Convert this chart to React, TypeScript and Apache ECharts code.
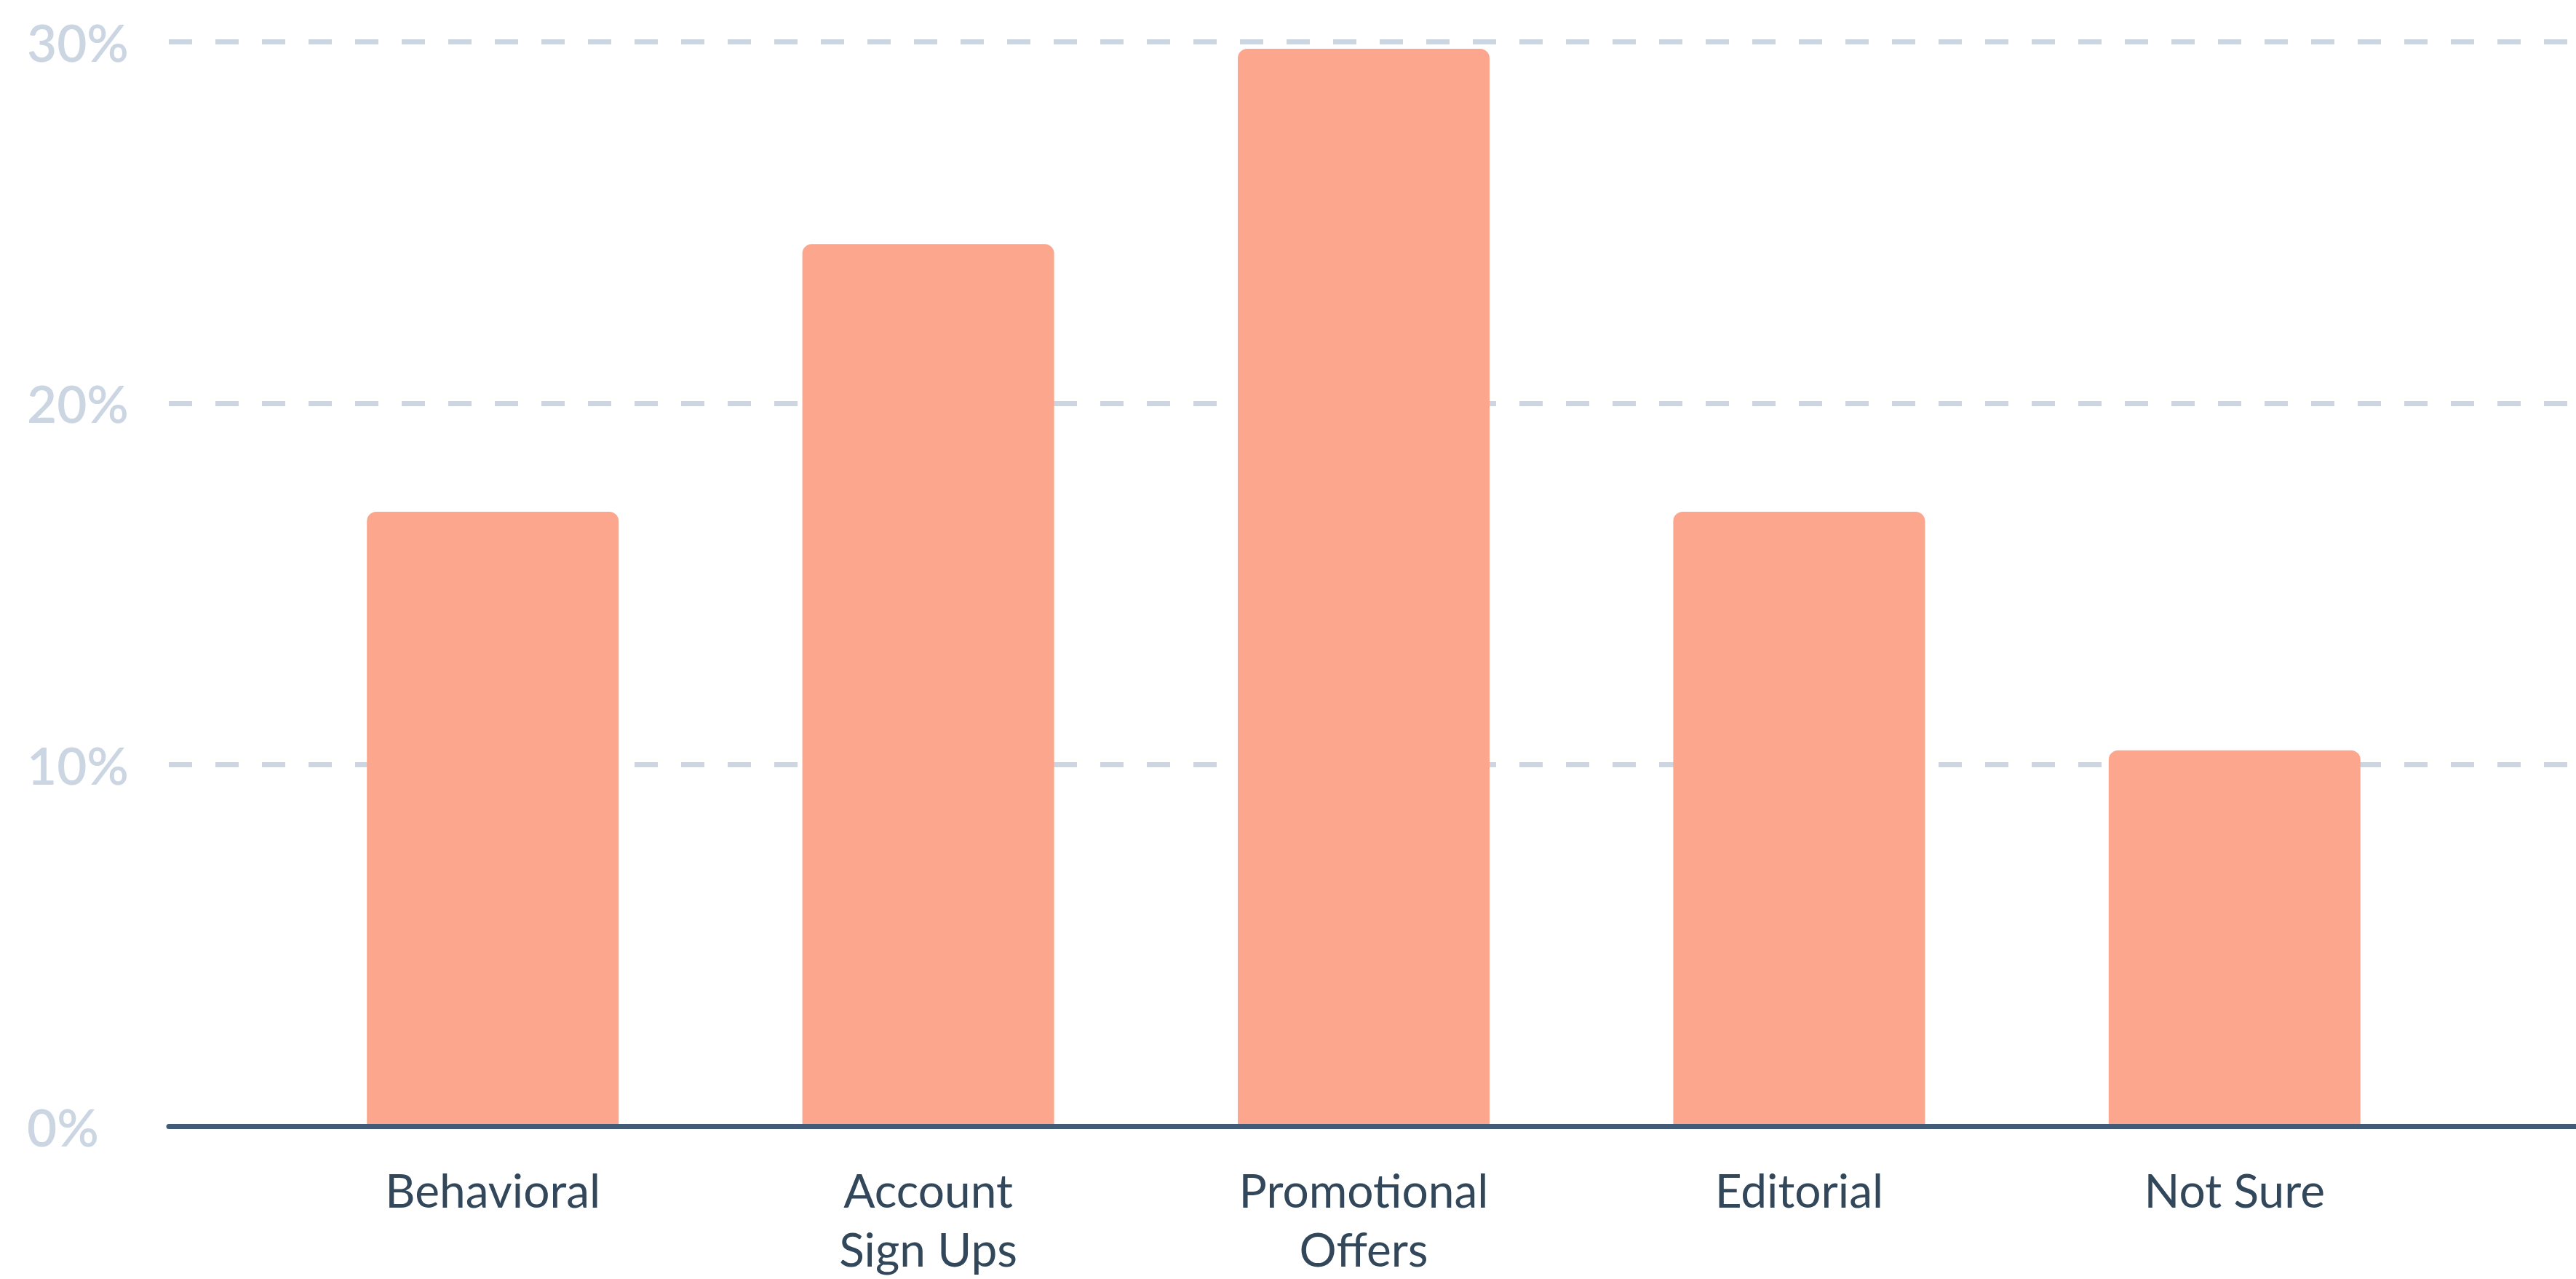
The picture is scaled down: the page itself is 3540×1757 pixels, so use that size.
import React, { useEffect, useRef } from "react";
import * as echarts from "echarts";

const categories: string[] = [
  "Behavioral",
  "Account\nSign Ups",
  "Promotional\nOffers",
  "Editorial",
  "Not Sure",
];
const values: number[] = [17, 24.4, 29.8, 17, 10.4];
const yMin = 0;
const yMax = 30;
const yInterval = 10;

const FONT = "Lato, 'Noto Sans', sans-serif";

export default function App() {
  const ref = useRef<HTMLDivElement>(null);
  useEffect(() => {
    if (!ref.current) return;
    const chart = echarts.init(ref.current, undefined, { renderer: "svg" });
    const gridTop = 57;
    const gridBottom = 1757 - 1547.5;
    chart.setOption({
      animation: false,
      backgroundColor: "#ffffff",
      grid: [
        {
          left: 232,
          right: 0,
          top: gridTop,
          bottom: gridBottom,
          outerBoundsMode: "none",
          containLabel: false,
        },
        {
          left: 378,
          right: 170,
          top: gridTop,
          bottom: gridBottom,
          outerBoundsMode: "none",
          containLabel: false,
        },
      ],
      xAxis: [
        {
          type: "value",
          gridIndex: 0,
          min: 0,
          max: 1,
          position: "bottom",
          z: 10,
          axisLine: { show: true, lineStyle: { color: "#425b76", width: 7 } },
          axisTick: { show: false },
          axisLabel: { show: false },
          splitLine: { show: false },
        },
        {
          type: "category",
          gridIndex: 1,
          data: categories,
          axisLine: { show: false },
          axisTick: { show: false },
          splitLine: { show: false },
          axisLabel: {
            interval: 0,
            margin: 46,
            color: "#33475b",
            fontFamily: FONT,
            fontSize: 64,
            lineHeight: 81,
          },
        },
      ],
      yAxis: [
        {
          type: "value",
          gridIndex: 0,
          min: yMin,
          max: yMax,
          interval: yInterval,
          axisLine: { show: false },
          axisTick: { show: false },
          axisLabel: {
            formatter: "{value}%",
            align: "left",
            margin: 195,
            color: "#cbd6e2",
            fontFamily: FONT,
            fontSize: 71,
            fontWeight: 600,
            padding: [6, 0, 0, 0],
          },
          splitLine: {
            show: true,
            lineStyle: { color: "#cbd6e2", width: 7, type: [32, 32] },
          },
        },
        {
          type: "value",
          gridIndex: 1,
          min: yMin,
          max: yMax,
          interval: yInterval,
          show: false,
          splitLine: { show: false },
        },
      ],
      series: [
        {
          type: "bar",
          xAxisIndex: 1,
          yAxisIndex: 1,
          data: values,
          barWidth: 346,
          itemStyle: { color: "#fca68d", borderRadius: [13, 13, 0, 0] },
          z: 2,
        },
      ],
    });
    return () => chart.dispose();
  }, []);
  return (
    <div
      ref={ref}
      style={{ position: "fixed", left: 0, top: 0, width: 3540, height: 1757 }}
    />
  );
}
